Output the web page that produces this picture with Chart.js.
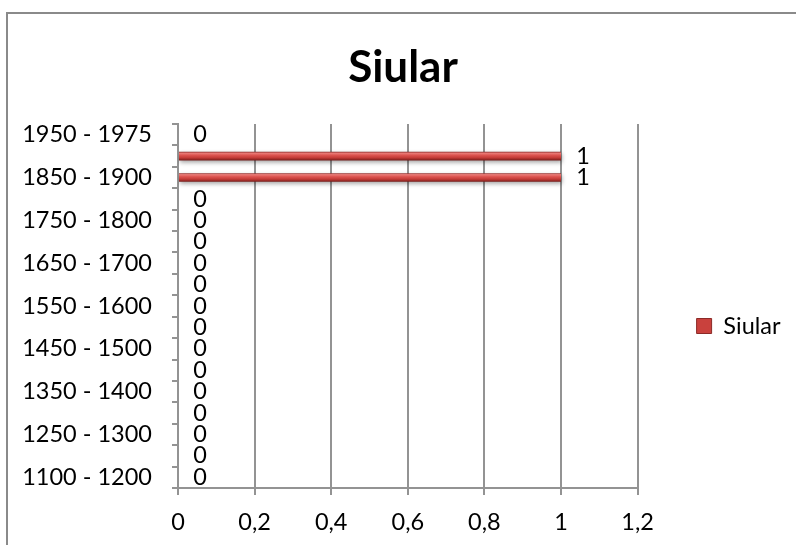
<!DOCTYPE html>
<html>
<head>
<meta charset="utf-8">
<script src="https://cdn.jsdelivr.net/npm/chart.js@4/dist/chart.umd.min.js"></script>
<style>
  html, body { margin: 0; padding: 0; background: #fff; }
  #wrap { width: 796px; height: 545px; position: relative; }
</style>
</head>
<body>
<div id="wrap"><canvas id="c" width="796" height="545"></canvas></div>
<script>
// Periods, oldest first (drawn bottom-up)
const periods = [
  '1100 - 1200', '1200 - 1250', '1250 - 1300', '1300 - 1350', '1350 - 1400',
  '1400 - 1450', '1450 - 1500', '1500 - 1550', '1550 - 1600', '1600 - 1650',
  '1650 - 1700', '1700 - 1750', '1750 - 1800', '1800 - 1850', '1850 - 1900',
  '1900 - 1950', '1950 - 1975'
];
const siularCounts = [0, 0, 0, 0, 0, 0, 0, 0, 0, 0, 0, 0, 0, 0, 1, 1, 0];
const valueTicks = [0, 0.2, 0.4, 0.6, 0.8, 1, 1.2];
const seriesName = 'Siular';
const chartTitle = 'Siular';

const FONT = 'Lato, "Noto Sans", sans-serif';
const GRID = '#939393';

// bevelled red fill for each bar, built across the bar's own thickness
function barFill(ctx) {
  const chart = ctx.chart;
  const ys = chart.scales.y;
  if (!chart.chartArea || !ys || ctx.dataIndex === undefined) return '#c0504d';
  const c = ys.getPixelForValue(ctx.dataIndex);
  const h = Math.abs(ys.getPixelForValue(1) - ys.getPixelForValue(0)) * 0.4;
  const g = chart.ctx.createLinearGradient(0, c - h / 2, 0, c + h / 2);
  g.addColorStop(0, '#8e2c29');
  g.addColorStop(0.16, '#ea7c78');
  g.addColorStop(0.4, '#dc5450');
  g.addColorStop(0.68, '#c43c38');
  g.addColorStop(0.88, '#962825');
  g.addColorStop(1, '#721c1a');
  return g;
}

// outer chart frame (left and top edges)
const framePlugin = {
  id: 'frame',
  beforeDraw(chart) {
    const c = chart.ctx;
    c.save();
    c.fillStyle = '#ffffff';
    c.fillRect(0, 0, chart.width, chart.height);
    c.strokeStyle = '#8a8a8a';
    c.lineWidth = 2;
    c.beginPath();
    c.moveTo(7, chart.height);
    c.lineTo(7, 13);
    c.lineTo(chart.width, 13);
    c.stroke();
    c.restore();
  }
};

// soft drop shadow under the bars
const barShadow = {
  id: 'barShadow',
  beforeDatasetDraw(chart) {
    const c = chart.ctx;
    c.save();
    c.shadowColor = 'rgba(0,0,0,0.35)';
    c.shadowBlur = 4;
    c.shadowOffsetX = 1;
    c.shadowOffsetY = 2;
  },
  afterDatasetDraw(chart) {
    chart.ctx.restore();
  }
};

// value written just past the end of each bar
const valueLabels = {
  id: 'valueLabels',
  afterDatasetsDraw(chart) {
    const c = chart.ctx;
    c.save();
    c.font = '23.5px ' + FONT;
    c.fillStyle = '#000';
    c.textAlign = 'center';
    c.textBaseline = 'middle';
    chart.data.datasets.forEach((ds, di) => {
      chart.getDatasetMeta(di).data.forEach((el, i) => {
        c.fillText(String(ds.data[i]), el.x + 22, el.y);
      });
    });
    c.restore();
  }
};

// legend sits a little below the middle of the plot
const legendOffset = {
  id: 'legendOffset',
  afterLayout(chart) {
    const lg = chart.legend;
    if (lg) { lg.top += 20; lg.bottom += 20; }
  }
};

new Chart(document.getElementById('c'), {
  type: 'bar',
  data: {
    labels: periods,
    datasets: [{
      label: seriesName,
      data: siularCounts,
      backgroundColor: barFill,
      borderWidth: 0,
      barPercentage: 0.4,
      categoryPercentage: 1.0
    }]
  },
  options: {
    indexAxis: 'y',
    responsive: false,
    animation: false,
    events: [],
    layout: { padding: { left: 20, right: 10, top: 0, bottom: 0 } },
    scales: {
      x: {
        min: 0,
        max: 1.2,
        afterBuildTicks(scale) { scale.ticks = valueTicks.map(v => ({ value: v })); },
        afterFit(scale) { scale.height = 57; },
        ticks: {
          color: '#000',
          font: { family: FONT, size: 23.5 },
          padding: 13,
          maxRotation: 0,
          callback: v => String(Math.round(v * 10) / 10).replace('.', ',')
        },
        grid: { color: GRID, lineWidth: 2, tickLength: 7, drawTicks: true },
        border: { display: true, color: GRID, width: 2 }
      },
      y: {
        reverse: true,
        offset: true,
        afterFit(scale) { scale.width = 158; },
        ticks: {
          autoSkip: false,
          color: '#000',
          font: { family: FONT, size: 23.5 },
          padding: 20,
          callback(v, i) { return i % 2 === 0 ? this.getLabelForValue(v) : ''; }
        },
        grid: { offset: true, drawOnChartArea: false, drawTicks: true, tickLength: 6, color: GRID, lineWidth: 2 },
        border: { display: true, color: GRID, width: 2 }
      }
    },
    plugins: {
      title: {
        display: true,
        text: chartTitle,
        color: '#000',
        font: { family: FONT, size: 44, weight: 'bold' },
        padding: { top: 41.6, bottom: 29.6 }
      },
      legend: {
        display: true,
        position: 'right',
        fullSize: false,
        maxWidth: 148.4,
        labels: {
          color: '#000',
          font: { family: FONT, size: 23.5 },
          boxWidth: 15,
          boxHeight: 15,
          padding: 59,
          generateLabels(chart) {
            return Chart.defaults.plugins.legend.labels.generateLabels(chart).map(it =>
              Object.assign(it, { fillStyle: '#c9413d', strokeStyle: '#8c2a27', lineWidth: 1 }));
          }
        }
      },
      tooltip: { enabled: false }
    }
  },
  plugins: [framePlugin, barShadow, valueLabels, legendOffset]
});
</script>
</body>
</html>
